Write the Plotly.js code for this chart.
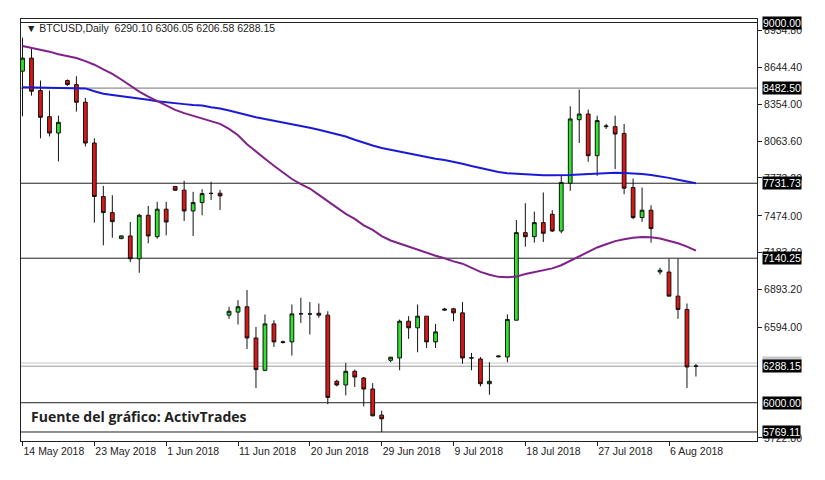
<!DOCTYPE html>
<html><head><meta charset="utf-8">
<script src="https://cdn.plot.ly/plotly-3.0.1.min.js"></script>
<style>html,body{margin:0;padding:0;background:#fff}#chart{width:825px;height:480px}</style>
</head><body><div id="chart"></div>
<script>
// ---- data (bar index 0..75) ----
const openP  = [8616,8719,8463,8257,8128,8542,8510,8371,8049,7627,7500,7295,7316,7136,7479,7310,7527,7706,7677,7513,7579,7650,7653,
  6691,6715,6757,6511,6256,6622,6481,6480,6701,6701,6706,6691,6169,6140,6248,6195,6108,5902,
  6335,6353,6643,6591,6683,6480,6730,6741,6709,6353,6345,6150,6362,6361,6651,7342,7310,7421,7487,7355,7732,8233,8278,7949,8178,8178,8125,7698,7461,7519,
  7032,7031,6841,6736,6290.10];
const highP  = [8880,8806,8542,8463,8265,8550,8576,8405,8086,7711,7637,7320,7426,7490,7553,7585,7585,7710,7751,7664,7685,7743,7680,
  6757,6809,6889,6598,6696,6651,6490,6775,6828,6794,6783,6722,6182,6314,6261,6203,6155,5937,
  6362,6656,6683,6775,6683,6622,6748,6749,6794,6393,6361,6319,6372,6696,7442,7574,7508,7659,7519,7790,8339,8471,8313,8265,8200,8265,8199,7769,7698,7558,
  7065,7136,7136,6783,6306.05];
const lowP   = [8260,8423,8086,8101,7904,8500,8297,8022,7421,7242,7302,7290,7110,7025,7258,7294,7321,7672,7434,7316,7479,7600,7521,
  6662,6617,6424,6116,6248,6440,6467,6372,6630,6538,6670,5989,6129,6058,6124,5971,5892,5768,
  6319,6256,6504,6398,6432,6432,6725,6643,6308,6256,6129,6063,6358,6319,6651,7231,7263,7268,7347,7337,7672,8049,7901,7790,8160,7843,7645,7448,7427,7263,
  7012,6841,6662,6116,6206.58];
const closeP = [8719,8458,8252,8128,8212,8510,8371,8049,7627,7500,7429,7316,7136,7479,7316,7527,7426,7677,7513,7579,7650,7652,7632,
  6722,6757,6511,6261,6622,6480,6476,6701,6702,6700,6691,6042,6140,6248,6203,6108,5897,5873,
  6359,6643,6591,6683,6480,6559,6738,6709,6353,6354,6150,6169,6368,6657,7342,7310,7421,7337,7355,7738,8239,8278,7949,8226,8183,8120,7693,7461,7519,7374,
  7045,6841,6736,6282,6288.15];
const maBlue = [8490,8489,8488,8488,8487,8486,8484,8480,8458,8438,8428,8420,8412,8404,8390,8378,8369,8360,8356,8349,8345,8332,8322,
  8305,8285,8270,8253,8240,8228,8214,8200,8185,8170,8154,8138,8117,8100,8075,8050,8030,8010,
  7995,7981,7965,7951,7938,7925,7915,7902,7886,7868,7850,7832,7820,7810,7805,7801,7797,7795,7794,7794,7797,7801,7805,7810,7813,7815,7813,7810,7805,7797,
  7787,7774,7760,7745,7731];
const maPurple = [8815,8800,8788,8770,8750,8732,8720,8695,8667,8630,8595,8550,8500,8455,8415,8380,8343,8310,8285,8265,8240,8220,8200,
  8160,8110,8040,7980,7925,7870,7815,7765,7725,7690,7640,7590,7540,7490,7450,7400,7363,7315,
  7280,7255,7235,7210,7185,7160,7140,7115,7097,7065,7032,7010,6993,6990,6995,7015,7030,7040,7060,7085,7120,7152,7190,7225,7250,7275,7290,7302,7307,7305,
  7295,7278,7258,7232,7200];
const tickLabels = ["14 May 2018","23 May 2018","1 Jun 2018","11 Jun 2018","20 Jun 2018","29 Jun 2018","9 Jul 2018","18 Jul 2018","27 Jul 2018","6 Aug 2018"];
const barsPerTick = 8;
const yTicks = [8934.80,8644.40,8354.00,8063.60,7773.20,7474.00,7183.60,6893.20,6594.00,5722.80];
const levels = [9000.00,8482.50,7731.73,7140.25,6000.00,5769.11];
const bidPrice = 6288.15, askPrice = 6313.15;
const header = "BTCUSD,Daily  6290.10 6306.05 6206.58 6288.15";
const sourceText = "Fuente del gráfico: ActivTrades";

// ---- build ----
const idx = openP.map((_, i) => i);
const W = 825, H = 480, L = 21, R = 68, T = 19, B = 39;
const pw = W - L - R, ph = H - T - B;
const px2x = px => (px - L) / pw;
const py2y = py => (H - B - py) / ph;
const FONT = "Liberation Sans, Arial, DejaVu Sans, sans-serif";

const traces = [
  {type:'scatter', mode:'lines', x: idx, y: maBlue, line:{color:'#1a1ad6', width:2}, hoverinfo:'skip'},
  {type:'scatter', mode:'lines', x: idx, y: maPurple, line:{color:'#80208a', width:2}, hoverinfo:'skip'},
  {type:'candlestick', x: idx, open: openP, high: highP, low: lowP, close: closeP,
   increasing:{line:{color:'#111', width:1}, fillcolor:'#2ee52e'},
   decreasing:{line:{color:'#111', width:1}, fillcolor:'#dd1515'},
   whiskerwidth:0, hoverinfo:'skip'}
];

const shapes = [];
levels.forEach(v => {
  shapes.push({type:'line', xref:'paper', yref:'y', x0:0, x1:1, y0:v, y1:v,
    line:{color: v === 8482.50 ? '#707070' : '#222', width:1}, layer:'below'});
});
shapes.push({type:'line', xref:'paper', yref:'y', x0:0, x1:1, y0:askPrice, y1:askPrice, line:{color:'#c8c8c8', width:1}, layer:'below'});
shapes.push({type:'line', xref:'paper', yref:'y', x0:0, x1:1, y0:bidPrice, y1:bidPrice, line:{color:'#9a9a9a', width:1}, layer:'below'});

const annotations = [];
annotations.push({xref:'paper', yref:'y', x:1, y:askPrice, xanchor:'left', yanchor:'middle', xshift:5,
  text: askPrice.toFixed(2), showarrow:false, bgcolor:'#c8c8c8', borderpad:0,
  font:{family:FONT, size:10.5, color:'#c8c8c8'}});
levels.concat([bidPrice]).forEach(v => {
  annotations.push({xref:'paper', yref:'y', x:1, y:v, xanchor:'left', yanchor:'middle', xshift:5,
    text: v.toFixed(2), showarrow:false, bgcolor:'#000', borderpad:0,
    font:{family:FONT, size:10.5, color:'#fff'}});
});
annotations.push({xref:'paper', yref:'paper', x:px2x(24), y:py2y(28), xanchor:'left', yanchor:'middle',
  text:'▼ ' + header, showarrow:false, font:{family:FONT, size:10.5, color:'#222'}});
annotations.push({xref:'paper', yref:'paper', x:px2x(29), y:py2y(416), xanchor:'left', yanchor:'middle',
  text:'<b>' + sourceText + '</b>', showarrow:false, font:{family:'Open Sans, sans-serif', size:14, color:'#222'}});

const layout = {
  width: W, height: H,
  margin:{l:L, r:R, t:T, b:B, pad:0},
  paper_bgcolor:'#fff', plot_bgcolor:'#fff',
  showlegend:false,
  boxgap:0.4,
  xaxis:{
    range:[-0.17, 81.8], showgrid:false, zeroline:false,
    rangeslider:{visible:false},
    tickmode:'array', tickvals: tickLabels.map((_, k) => k * barsPerTick), ticktext: tickLabels,
    ticks:'outside', ticklen:4, tickcolor:'#222', ticklabelposition:'outside right',
    tickfont:{family:FONT, size:10.5, color:'#222'},
    showline:true, linecolor:'#222', linewidth:1, mirror:true, fixedrange:true
  },
  yaxis:{
    side:'right', range:[5698, 9027.6], showgrid:false, zeroline:false,
    tickmode:'array', tickvals: yTicks, ticktext: yTicks.map(v => v.toFixed(2)),
    ticks:'outside', ticklen:4, tickcolor:'#222',
    tickfont:{family:FONT, size:10.5, color:'#222'},
    showline:true, linecolor:'#222', linewidth:1, mirror:true, fixedrange:true
  },
  shapes, annotations
};
Plotly.newPlot('chart', traces, layout, {staticPlot:true, displayModeBar:false});
</script></body></html>
